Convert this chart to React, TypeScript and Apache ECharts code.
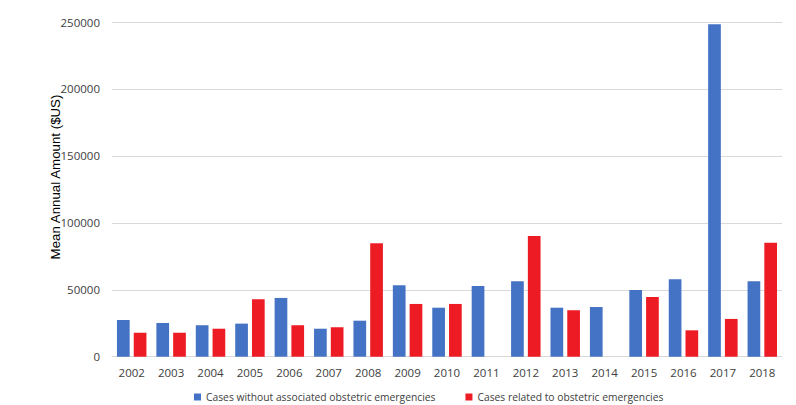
import React, { useEffect, useRef } from "react";
import * as echarts from "echarts";

const years = ["2002","2003","2004","2005","2006","2007","2008","2009","2010","2011","2012","2013","2014","2015","2016","2017","2018"];
const withoutEmergency = [27400,25200,23500,24700,43900,20900,26900,53400,36600,52800,56300,36600,37100,49800,57800,248400,56300];
const withEmergency = [17900,17900,20900,42900,23500,22000,84700,39400,39400,null,90200,34700,null,44600,19700,28200,85200];
const seriesNames = ["Cases without associated obstetric emergencies", "Cases related to obstetric emergencies"];
const yTitle = "Mean Annual Amount ($US)";

export default function App() {
  const ref = useRef<HTMLDivElement>(null);
  useEffect(() => {
    const chart = echarts.init(ref.current!, null, { renderer: "svg" });
    chart.setOption({
      animation: false,
      backgroundColor: "#ffffff",
      grid: { left: 112, right: 14, top: 22, bottom: 48.3 },
      legend: {
        top: 387,
        left: 189,
        itemWidth: 7,
        itemHeight: 7,
        itemGap: 30,
        icon: "rect",
        textStyle: { fontFamily: "Open Sans", fontSize: 10.3, color: "#404040" },
        data: seriesNames,
      },
      graphic: [
        {
          type: "text",
          x: 55,
          y: 177,
          rotation: Math.PI / 2,
          style: {
            text: yTitle,
            fontFamily: "Liberation Sans",
            fontSize: 13.3,
            fill: "#000000",
            align: "center",
            verticalAlign: "middle",
          },
        },
      ],
      xAxis: {
        type: "category",
        data: years,
        axisLine: { lineStyle: { color: "#d9d9d9", width: 1 } },
        axisTick: { show: false },
        axisLabel: { color: "#404040", fontFamily: "Open Sans", fontSize: 11.5, margin: 10 },
      },
      yAxis: {
        type: "value",
        min: 0,
        max: 250000,
        interval: 50000,
        axisLine: { show: false },
        axisTick: { show: false },
        splitLine: { lineStyle: { color: "#d9d9d9", width: 1 } },
        axisLabel: { color: "#404040", fontFamily: "Open Sans", fontSize: 11.5, margin: 12, formatter: (v: number) => String(v) },
      },
      series: [
        {
          name: seriesNames[0],
          type: "bar",
          data: withoutEmergency,
          barWidth: 12.7,
          barGap: "32%",
          itemStyle: { color: "#4472C4" },
        },
        {
          name: seriesNames[1],
          type: "bar",
          data: withEmergency,
          barWidth: 12.7,
          barGap: "32%",
          itemStyle: { color: "#ED1C24" },
        },
      ],
    });
    return () => chart.dispose();
  }, []);
  return <div ref={ref} style={{ width: 796, height: 405, position: "absolute", left: 0, top: 0 }} />;
}
